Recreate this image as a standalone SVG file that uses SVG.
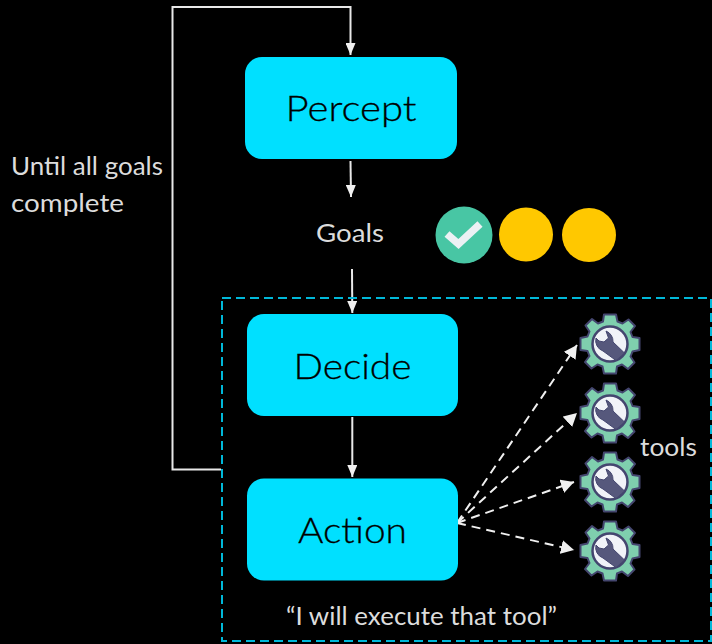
<svg xmlns="http://www.w3.org/2000/svg" width="712" height="644" viewBox="0 0 712 644">
<style>
text{font-family:Lato,"Noto Sans","Liberation Sans",sans-serif}
.node{fill:#00e0ff}
.nl{font-size:36px;font-weight:300;fill:#000;text-anchor:middle;stroke:#000;stroke-width:.3px}
.lbl{font-size:25px;font-weight:400;fill:#dcdcdc}
.w{fill:none;stroke:#e8e8e8;stroke-width:2}
.d{fill:none;stroke:#f0f0f0;stroke-width:2;stroke-dasharray:9 6}
</style>
<defs>
<marker id="a" viewBox="0 0 12 10" refX="12" refY="5" markerWidth="12" markerHeight="10" markerUnits="userSpaceOnUse" orient="auto"><path d="M0 0L12 5L0 10Z" fill="#f0f0f0"/></marker>
<marker id="t" viewBox="0 0 13 14" refX="13" refY="7" markerWidth="13" markerHeight="14" markerUnits="userSpaceOnUse" orient="auto"><path d="M0 0L13 7L0 14Z" fill="#f0f0f0"/></marker>
<g id="gear">
<path d="M-6 -29.500H6L7.500 -22.500L12.500 -20.500L18.500 -24.500L25 -18L20.500 -12L22.500 -7L29.500 -6V6L22.500 7.500L20.500 12.500L24.500 18.500L18 25L12 20.500L7 22.500L6 29.500H-6L-7.500 22.500L-12.500 20.500L-18.500 24.500L-25 18L-20.500 12L-22.500 7L-29.500 6V-6L-22.500 -7.500L-20.500 -12.500L-24.500 -18.500L-18 -25L-12 -20.500L-7 -22.500Z" fill="#7fcfae" stroke="#44466f" stroke-width="2" stroke-linejoin="round"/>
<circle r="17.500" fill="#f1f3f8" stroke="#44466f" stroke-width="2.500"/>
<path d="M-14 -6A11 11 0 0 0 -7 7L6 16.500L14.500 9L3 -2A11 11 0 0 0 -4 -13L-1.500 -6L-6 -2L-11 -3Z" fill="#56587c" stroke="#44466f" stroke-width="1" stroke-linejoin="round"/>
</g>
</defs>
<rect width="712" height="644" fill="#000"/>
<g id="connectors">
<path class="w" d="M221 469.500H172.500V7H350.500V55" marker-end="url(#a)"/>
<path class="w" d="M350.500 161L351 197" marker-end="url(#a)"/>
<path class="w" d="M352 269L352.300 313" marker-end="url(#a)"/>
<path class="w" d="M352.300 417V477" marker-end="url(#a)"/>
<path class="d" d="M457 523L577 345" marker-end="url(#t)"/>
<path class="d" d="M457 523L577 413" marker-end="url(#t)"/>
<path class="d" d="M457 523L574 482" marker-end="url(#t)"/>
<path class="d" d="M457 523L574 550" marker-end="url(#t)"/>
</g>
<g id="group-box"><rect x="222" y="298" width="489" height="343" fill="none" stroke="#00b8d9" stroke-width="2" stroke-dasharray="9 5"/></g>
<g id="percept"><rect class="node" x="245" y="57" width="212" height="102" rx="17"/><text class="nl" x="351" y="121" textLength="131" lengthAdjust="spacingAndGlyphs">Percept</text></g>
<g id="decide"><rect class="node" x="247" y="314" width="211" height="102" rx="17"/><text class="nl" x="352.500" y="379" textLength="118" lengthAdjust="spacingAndGlyphs">Decide</text></g>
<g id="action"><rect class="node" x="247" y="478.500" width="211" height="102" rx="17"/><text class="nl" x="352.500" y="543" textLength="109" lengthAdjust="spacingAndGlyphs">Action</text></g>
<g id="label-until"><text class="lbl" x="11" y="175" textLength="152" lengthAdjust="spacingAndGlyphs">Until all goals</text><text class="lbl" x="11" y="212" textLength="113" lengthAdjust="spacingAndGlyphs">complete</text></g>
<g id="label-goals"><text class="lbl" x="316" y="242" textLength="68" lengthAdjust="spacingAndGlyphs">Goals</text></g>
<g id="goal-done"><circle cx="464" cy="235" r="28.500" fill="#48c6a4"/><path d="M447 234L458.500 244L480 224" fill="none" stroke="#ecf1f4" stroke-width="7.500"/></g>
<g id="goal-2"><circle cx="526" cy="234.500" r="27" fill="#ffc800"/></g>
<g id="goal-3"><circle cx="589" cy="235" r="27" fill="#ffc800"/></g>
<g id="tool-1"><use href="#gear" x="610" y="344"/></g>
<g id="tool-2"><use href="#gear" x="610" y="413"/></g>
<g id="tool-3"><use href="#gear" x="610" y="482"/></g>
<g id="tool-4"><use href="#gear" x="610" y="551"/></g>
<g id="label-tools"><text class="lbl" x="640" y="456" textLength="57" lengthAdjust="spacingAndGlyphs">tools</text></g>
<g id="label-quote"><text class="lbl" x="286" y="625" textLength="271" lengthAdjust="spacingAndGlyphs">“I will execute that tool”</text></g>
</svg>
